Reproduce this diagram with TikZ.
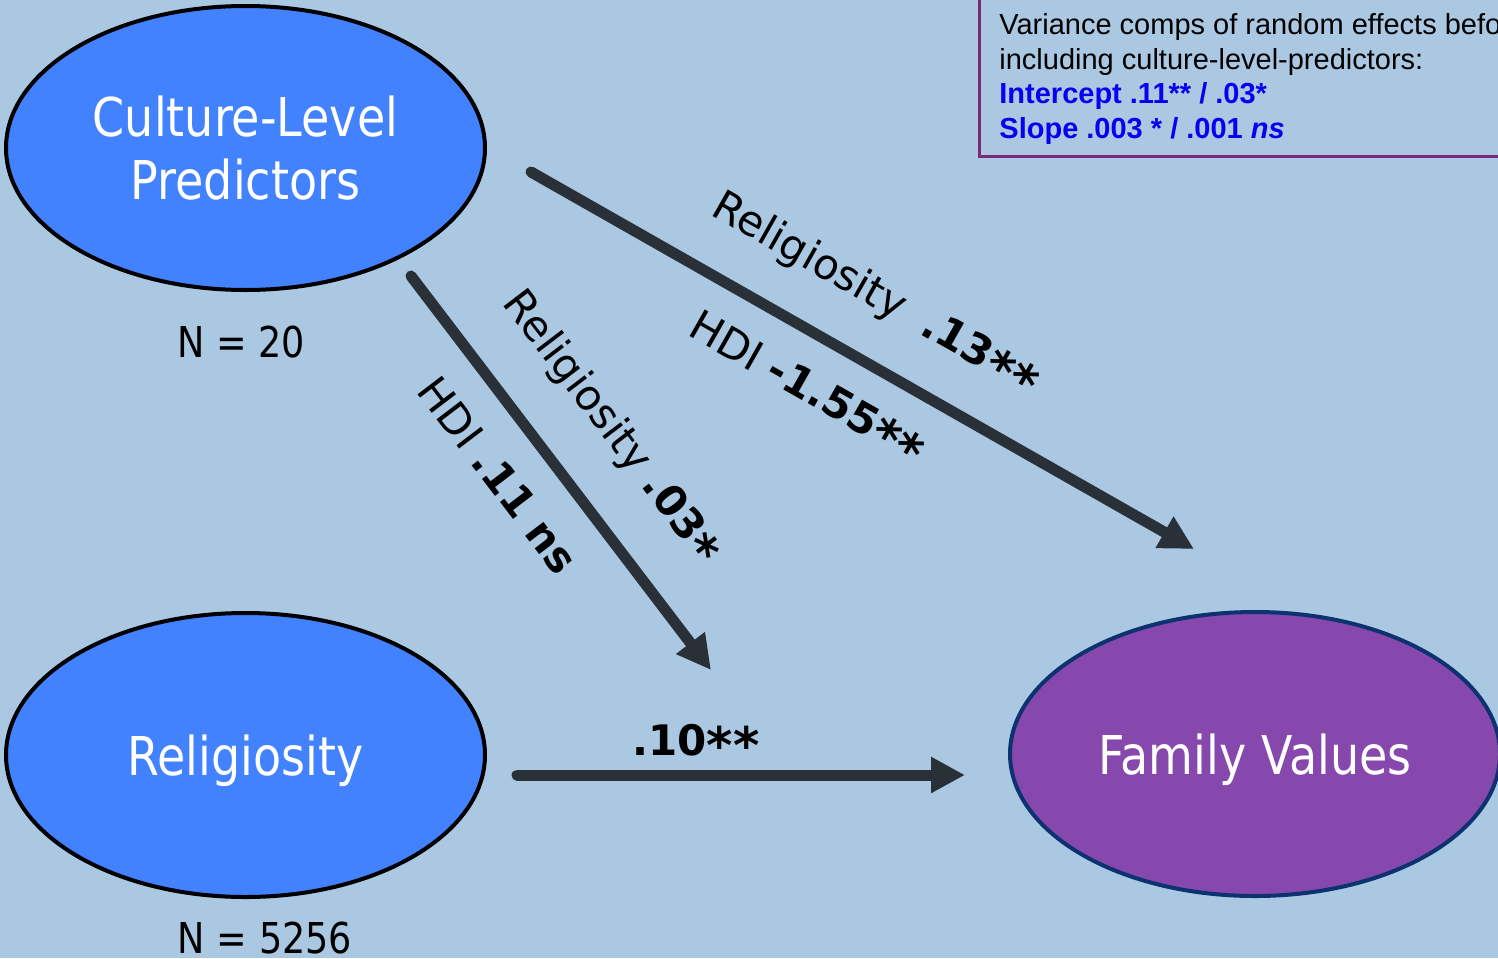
\documentclass[tikz,border=0pt]{standalone}
\usepackage{fontspec}
\setmainfont{DejaVu Sans}
\newfontfamily\ovalfont[FakeStretch=0.86]{DejaVu Sans}
\newfontfamily\notefont{Liberation Sans}
\usepackage{xcolor}
\usepackage{tikz}
\usetikzlibrary{shapes.geometric,arrows.meta}

\definecolor{bgblue}{RGB}{171,200,227}
\definecolor{ovalblue}{RGB}{66,130,255}
\definecolor{ovalpurple}{RGB}{134,72,172}
\definecolor{navyline}{RGB}{12,50,112}
\definecolor{arrowgray}{RGB}{42,48,56}
\definecolor{framepurple}{RGB}{126,40,124}
\definecolor{noteblue}{RGB}{10,0,240}

% a larger significance star
\newcommand{\sigstar}{\raisebox{-0.2em}{\scalebox{1.2}{*}}}

\tikzset{
  oval/.style={ellipse, draw=black, line width=2pt, fill=ovalblue, text=white,
    minimum width=239.5pt, minimum height=142pt, inner sep=0pt, align=center,
    text depth=0pt, font=\fontsize{26.75pt}{31.5pt}\selectfont\ovalfont},
  effect/.style={draw=arrowgray, line width=5.5pt, line cap=round,
    -{Triangle[length=17pt,width=17pt]}},
  coef/.style={font=\fontsize{21pt}{25pt}\selectfont},
  count/.style={anchor=base, font=\fontsize{21.25pt}{25pt}\selectfont\ovalfont}
}

\begin{document}
\begin{tikzpicture}[x=0.5pt,y=-0.5pt]
\useasboundingbox (0,0) rectangle (1498,958);
\clip (0,0) rectangle (1498,958);
\fill[bgblue] (0,0) rectangle (1498,958);

% variance note, cut by the top and right edge
\draw[framepurple, line width=1.5pt] (979,-10) |- (1520,156);
\node[anchor=north west, inner sep=0pt, align=left,
  font=\fontsize{14.5pt}{17.25pt}\selectfont\notefont] (varnote) at (999,13.5)
  {Variance comps of random effects before\\
   including culture-level-predictors:\\
   \textcolor{noteblue}{\textbf{Intercept .11** / .03*}}\\
   \textcolor{noteblue}{\textbf{Slope .003 * / .001 \textit{ns}}}};

% the three ovals
\node[oval] (culture) at (245.5,148) {Culture-Level\\Predictors};
\node[oval] (relig) at (245.5,755) {Religiosity};
\node[oval, fill=ovalpurple, draw=navyline, minimum width=245pt] (family) at (1255,754) {Family Values};

\node[count] (n-culture) at (241,357) {N = 20};
\node[count] (n-relig) at (265,953) {N = 5256};

% paths
\coordinate (cl-fv-start) at (531,172);
\coordinate (cl-fv-end) at (1194,549);
\coordinate (cl-mod-start) at (411,276);
\coordinate (cl-mod-end) at (711,670);
\coordinate (rel-fv-start) at (517,775);
\coordinate (rel-fv-end) at (965,775);

\draw[effect] (cl-fv-start) -- (cl-fv-end);
\draw[effect] (cl-mod-start) -- (cl-mod-end);
\draw[effect] (rel-fv-start) -- (rel-fv-end);

\node[coef, rotate=-29.6] (lab-rel-fv) at (875,295) {Religiosity\hspace{0.6em}\textbf{.13\sigstar\sigstar}};
\node[coef, rotate=-29.6] (lab-hdi-fv) at (806,390) {HDI \textbf{-1.55\sigstar\sigstar}};
\node[coef, rotate=-52.7] (lab-rel-mod) at (611,428) {Religiosity \textbf{.03\sigstar}};
\node[coef, rotate=-52.7] (lab-hdi-mod) at (498,475) {HDI \textbf{.11 ns}};
\node[coef, anchor=base] (lab-direct) at (696,755) {\textbf{.10\sigstar\sigstar}};

\end{tikzpicture}
\end{document}
